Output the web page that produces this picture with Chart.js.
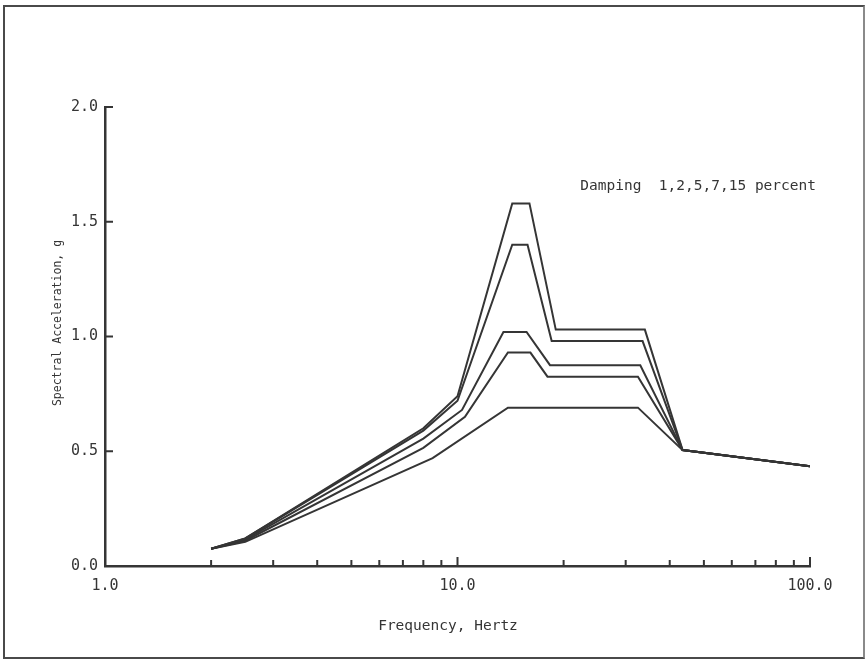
<!DOCTYPE html>
<html>
<head>
<meta charset="utf-8">
<title>Spectral acceleration vs frequency</title>
<script src="https://cdn.jsdelivr.net/npm/chart.js@4.4.1/dist/chart.umd.min.js"></script>
<style>
  html, body { margin: 0; padding: 0; background: #fff; }
  #wrap { position: relative; width: 867px; height: 662px; }
  #chart { position: absolute; left: 0; top: 0; }
  /* scanned page frame */
  #frame {
    position: absolute; left: 3px; top: 5px; width: 858px; height: 650px;
    border: 2px solid #4a4a4a; border-right-color: #8a8a8a; pointer-events: none;
  }
</style>
</head>
<body>
<div id="wrap">
  <canvas id="chart" width="867" height="662"></canvas>
  <div id="frame"></div>
</div>
<script>
// Response spectra, one curve per damping ratio. Frequencies in Hz,
// accelerations in g.
const freq1  = [2.0, 2.5, 8.0, 10.0, 14.3, 16.0, 19.0, 34.0, 43.5, 100];
const accel1 = [0.075, 0.12, 0.60, 0.74, 1.58, 1.58, 1.03, 1.03, 0.505, 0.435];

const freq2  = [2.0, 2.5, 8.0, 10.0, 14.3, 15.8, 18.5, 33.5, 43.5, 100];
const accel2 = [0.075, 0.12, 0.59, 0.72, 1.40, 1.40, 0.98, 0.98, 0.505, 0.435];

const freq5  = [2.0, 2.5, 8.0, 10.3, 13.5, 15.7, 18.3, 33.0, 43.5, 100];
const accel5 = [0.075, 0.115, 0.555, 0.68, 1.02, 1.02, 0.875, 0.875, 0.505, 0.435];

const freq7  = [2.0, 2.5, 8.0, 10.5, 13.9, 16.1, 18.0, 32.5, 43.5, 100];
const accel7 = [0.075, 0.11, 0.515, 0.65, 0.93, 0.93, 0.825, 0.825, 0.505, 0.435];

const freq15  = [2.0, 2.5, 8.5, 13.9, 32.5, 43.5, 100];
const accel15 = [0.075, 0.105, 0.47, 0.69, 0.69, 0.505, 0.435];

const xTicks = [1, 2, 3, 4, 5, 6, 7, 8, 9, 10, 20, 30, 40, 50, 60, 70, 80, 90, 100];
const xLabels = { 1: '1.0', 10: '10.0', 100: '100.0' };
const yTicks = [0, 0.5, 1.0, 1.5, 2.0];

const INK = '#353535';
const FONT = '"DejaVu Sans Mono", "Liberation Mono", monospace';

const zip = (xs, ys) => xs.map((x, i) => ({ x, y: ys[i] }));

const curve = (xs, ys) => ({
  data: zip(xs, ys),
  borderColor: INK,
  borderWidth: 2,
  pointRadius: 0,
  tension: 0,
  fill: false,
});

// Short inward tick marks, the way the plotter drew them.
const inwardTicks = {
  id: 'inwardTicks',
  afterDraw(chart) {
    const { ctx, scales: { x, y } } = chart;
    ctx.save();
    ctx.strokeStyle = INK;
    ctx.lineWidth = 2;
    ctx.beginPath();
    for (const t of x.ticks) {
      if (t.value === 1) continue;
      const px = x.getPixelForValue(t.value);
      const len = (t.value === 10 || t.value === 100) ? 9 : 6;
      ctx.moveTo(px, y.bottom);
      ctx.lineTo(px, y.bottom - len);
    }
    for (const t of y.ticks) {
      if (t.value === 0) continue;
      const py = y.getPixelForValue(t.value);
      ctx.moveTo(x.left, py);
      ctx.lineTo(x.left + 8, py);
    }
    ctx.stroke();
    ctx.restore();
  },
};

// Annotation, the frequency caption and the rotated acceleration caption,
// placed where the original typewriter put them.
const captions = {
  id: 'captions',
  afterDraw(chart) {
    const { ctx, chartArea } = chart;
    ctx.save();
    ctx.fillStyle = INK;
    ctx.textBaseline = 'middle';
    ctx.font = '14.5px ' + FONT;
    ctx.textAlign = 'right';
    ctx.fillText('Damping  1,2,5,7,15 percent', chartArea.right + 6, chartArea.top + 79);
    ctx.textAlign = 'center';
    ctx.fillText('Frequency, Hertz', chartArea.left + 343, chartArea.bottom + 60);

    ctx.font = '11.5px ' + FONT;
    ctx.translate(chartArea.left - 47, chartArea.top + 216);
    ctx.rotate(-Math.PI / 2);
    ctx.fillText('Spectral Acceleration, g', 0, 0);
    ctx.restore();
  },
};

new Chart(document.getElementById('chart'), {
  type: 'line',
  data: {
    datasets: [
      curve(freq1, accel1),
      curve(freq2, accel2),
      curve(freq5, accel5),
      curve(freq7, accel7),
      curve(freq15, accel15),
    ],
  },
  options: {
    responsive: false,
    animation: false,
    layout: { padding: { left: 0, right: 57, top: 107, bottom: 0 } },
    plugins: { legend: { display: false }, tooltip: { enabled: false } },
    scales: {
      x: {
        type: 'logarithmic',
        min: 1,
        max: 100,
        afterBuildTicks: s => { s.ticks = xTicks.map(v => ({ value: v })); },
        afterFit: s => { s.height = 96; },
        grid: { drawOnChartArea: false, drawTicks: false },
        border: { color: INK, width: 2.5 },
        ticks: {
          autoSkip: false,
          maxRotation: 0,
          padding: 11,
          color: INK,
          font: { family: FONT, size: 15 },
          callback: v => xLabels[v] || '',
        },
      },
      y: {
        min: 0,
        max: 2,
        afterBuildTicks: s => { s.ticks = yTicks.map(v => ({ value: v })); },
        afterFit: s => { s.width = 105; },
        grid: { drawOnChartArea: false, drawTicks: false },
        border: { color: INK, width: 2.5 },
        ticks: {
          padding: 7,
          color: INK,
          font: { family: FONT, size: 15 },
          callback: v => v.toFixed(1),
        },
      },
    },
  },
  plugins: [inwardTicks, captions],
});
</script>
</body>
</html>
